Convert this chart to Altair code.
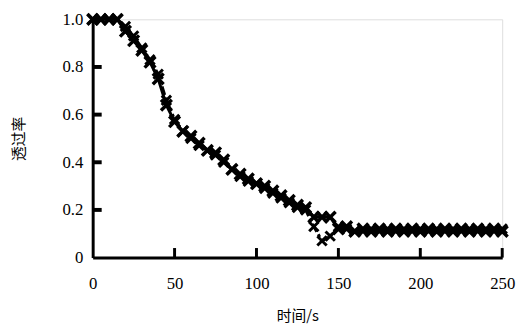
import altair as alt
import pandas as pd

time_s = list(range(0, 255, 5))
series_solid = [1.0, 1.0, 1.0, 1.0, 0.95, 0.91, 0.87, 0.82, 0.75, 0.64,
                0.57, 0.53, 0.51, 0.48, 0.45, 0.44, 0.41, 0.37, 0.35, 0.33,
                0.31, 0.30, 0.28, 0.26, 0.24, 0.22, 0.21, 0.17, 0.17, 0.17,
                0.12, 0.13, 0.11, 0.12, 0.11, 0.12, 0.11, 0.12, 0.11, 0.12,
                0.11, 0.12, 0.11, 0.12, 0.11, 0.12, 0.11, 0.12, 0.11, 0.12, 0.11]
series_dash = [1.0, 1.0, 1.0, 1.0, 0.97, 0.93, 0.88, 0.83, 0.77, 0.66,
               0.58, 0.53, 0.50, 0.47, 0.45, 0.43, 0.40, 0.37, 0.34, 0.32,
               0.31, 0.29, 0.27, 0.25, 0.23, 0.21, 0.20, 0.13, 0.07, 0.09,
               0.13, 0.12, 0.11, 0.11, 0.12, 0.11, 0.12, 0.11, 0.12, 0.11,
               0.12, 0.11, 0.12, 0.11, 0.12, 0.11, 0.12, 0.11, 0.12, 0.11, 0.12]
x_ticks = [0, 50, 100, 150, 200, 250]
y_ticks = [0, 0.2, 0.4, 0.6, 0.8, 1.0]

W, H = 416, 242
XTICK_LEN = 0.04   # inward tick length in y units
YTICK_LEN = 5.5    # inward tick length in x units

dfA = pd.DataFrame({"t": time_s, "v": series_solid})
dfB = pd.DataFrame({"t": time_s, "v": series_dash})

xs = alt.Scale(domain=[0, 250], nice=False, zero=False)
ys = alt.Scale(domain=[0, 1], nice=False)

serif = "Liberation Serif"
cjk = "Noto Sans CJK SC"

x_axis = alt.Axis(values=x_ticks, ticks=False, grid=False, labelPadding=18,
                  title="时间/s", titlePadding=18, labelFlush=False,
                  labelFont=serif, labelFontSize=17, labelColor="black",
                  titleFont=cjk, titleFontSize=15, titleFontWeight="normal",
                  titleColor="black", domainColor="black", domainWidth=3)
y_axis = alt.Axis(values=y_ticks, ticks=False, grid=False, labelPadding=10,
                  title="透过率", titlePadding=36, labelFlush=False,
                  labelFont=serif, labelFontSize=17, labelColor="black",
                  titleFont=cjk, titleFontSize=15, titleFontWeight="normal",
                  titleColor="black", domainColor="black", domainWidth=3,
                  labelExpr="datum.value == 0 ? '0' : format(datum.value, '.1f')")

X = alt.X("t:Q", scale=xs, axis=x_axis)
Y = alt.Y("v:Q", scale=ys, axis=y_axis)

line_a = alt.Chart(dfA).mark_line(color="black", strokeWidth=3).encode(x=X, y=Y)
line_b = alt.Chart(dfB).mark_line(color="black", strokeWidth=3,
                                  strokeDash=[9, 3, 3, 3]).encode(x=X, y=Y)

xshape = "M-1,-1L1,1M-1,1L1,-1"
pts_a = alt.Chart(dfA).mark_point(shape=xshape, color="black", strokeWidth=3.5,
                                  size=120, filled=False, opacity=1).encode(x=X, y=Y)
pts_b = alt.Chart(dfB).mark_point(shape=xshape, color="black", strokeWidth=3,
                                  size=90, filled=False, opacity=1).encode(x=X, y=Y)

xt = pd.DataFrame({"t": x_ticks[1:], "y0": [0.0] * 5, "y1": [XTICK_LEN] * 5})
yt = pd.DataFrame({"v": y_ticks[1:], "x0": [0.0] * 5, "x1": [YTICK_LEN] * 5})
xticks = alt.Chart(xt).mark_rule(color="black", strokeWidth=3, opacity=1).encode(
    x=X, y=alt.Y("y0:Q", scale=ys, axis=y_axis), y2="y1:Q")
yticks = alt.Chart(yt).mark_rule(color="black", strokeWidth=4, opacity=1).encode(
    y=Y, x=alt.X("x0:Q", scale=xs, axis=x_axis), x2="x1:Q")

chart = alt.layer(line_a, line_b, pts_b, pts_a, xticks, yticks).properties(
    width=W, height=H,
    autosize=alt.AutoSizeParams(type="none"),
    padding={"left": 86, "top": 9, "right": 14, "bottom": 66},
).configure_view(stroke=None).configure(background="white")

chart.save("out.html", embed_options={"renderer": "svg", "actions": False})
